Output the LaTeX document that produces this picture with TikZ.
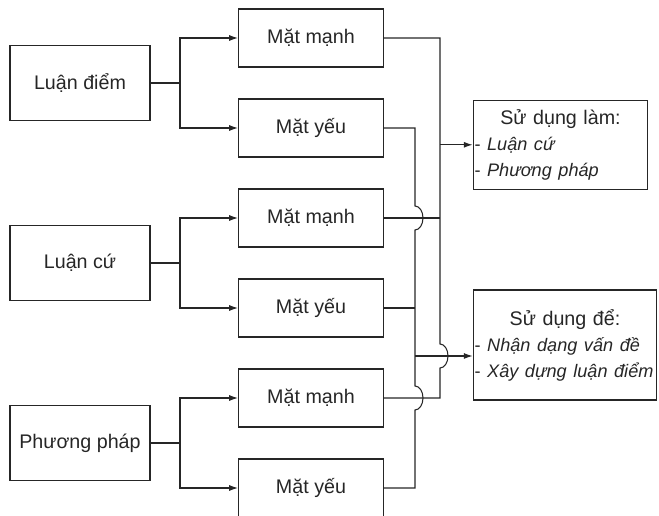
\documentclass[tikz,border=0pt]{standalone}
\usepackage{fontspec}
\setmainfont{Liberation Sans}
\usetikzlibrary{arrows.meta, positioning, calc}

\begin{document}
\begin{tikzpicture}[>={Latex[length=2.2mm,width=1.5mm]}, color=black!85, line width=0.75pt,
  font=\fontsize{14}{18.5}\selectfont,
  src/.style={draw, minimum width=3.5cm, minimum height=1.875cm},
  side/.style={draw, minimum width=3.625cm, minimum height=1.45cm},
  use/.style={draw, inner sep=1pt},
  hop/.style={start angle=90, end angle=-90, x radius=0.2cm, y radius=0.3cm}]
  \useasboundingbox (0,0) rectangle (16.475,12.9);

  % ba nhom ban dau
  \node[src] (ld) at (2.0,10.825) {Luận điểm};
  \node[src] (lc) at (2.0,6.325) {Luận cứ};
  \node[src] (pp) at (2.0,1.825) {Phương pháp};

  \node[side] (ldm) at (7.775,11.95) {Mặt mạnh};
  \node[side] (ldy) at (7.775,9.7) {Mặt yếu};
  \node[side] (lcm) at (7.775,7.45) {Mặt mạnh};
  \node[side] (lcy) at (7.775,5.2) {Mặt yếu};
  \node[side] (ppm) at (7.775,2.95) {Mặt mạnh};
  \node[side] (ppy) at (7.775,0.7) {Mặt yếu};

  \node[use, text width=4.3cm, minimum height=2.225cm] (lam) at (14.0125,9.28)
    {\centering Sử dụng làm:\par\raggedright\fontsize{12.9}{18.5}\selectfont
     \mbox{- \textit{Luận cứ}}\par \mbox{- \textit{Phương pháp}}\par};
  \node[use, text width=4.52cm, minimum height=2.75cm] (de) at (14.125,4.275)
    {\centering Sử dụng để:\par\raggedright\fontsize{12.9}{18.5}\selectfont
     \mbox{- \textit{Nhận dạng vấn đề}}\par \mbox{- \textit{Xây dựng luận điểm}}\par};

  \coordinate (fork) at (4.5,0);
  \coordinate (busL) at (10.375,0);
  \coordinate (busR) at (11.0,0);
  \coordinate (dein) at ([yshift=-0.275cm]de.west);

  % tach ra mat manh / mat yeu
  \draw[->] (ld.east) -- (ld.east -| fork) |- (ldm.west);
  \draw[->] (ld.east -| fork) |- (ldy.west);
  \draw[->] (lc.east) -- (lc.east -| fork) |- (lcm.west);
  \draw[->] (lc.east -| fork) |- (lcy.west);
  \draw[->] (pp.east) -- (pp.east -| fork) |- (ppm.west);
  \draw[->] (pp.east -| fork) |- (ppy.west);

  % mat manh -> su dung lam
  \draw (ldm.east) -- (ldm.east -| busR) -- ($(dein -| busR)+(0,0.3)$) arc[hop]
    -- (ppm.east -| busR) -- (ppm.east);
  \draw (lcm.east) -- (lcm.east -| busR);
  \draw[->] (lam.west -| busR) -- (lam.west);

  % mat yeu -> su dung de
  \draw (ldy.east) -- (ldy.east -| busL) -- ($(lcm.east -| busL)+(0,0.3)$) arc[hop]
    -- ($(ppm.east -| busL)+(0,0.3)$) arc[hop] -- (ppy.east -| busL) -- (ppy.east);
  \draw (lcy.east) -- (lcy.east -| busL);
  \draw[->] (dein -| busL) -- (dein);
\end{tikzpicture}
\end{document}
